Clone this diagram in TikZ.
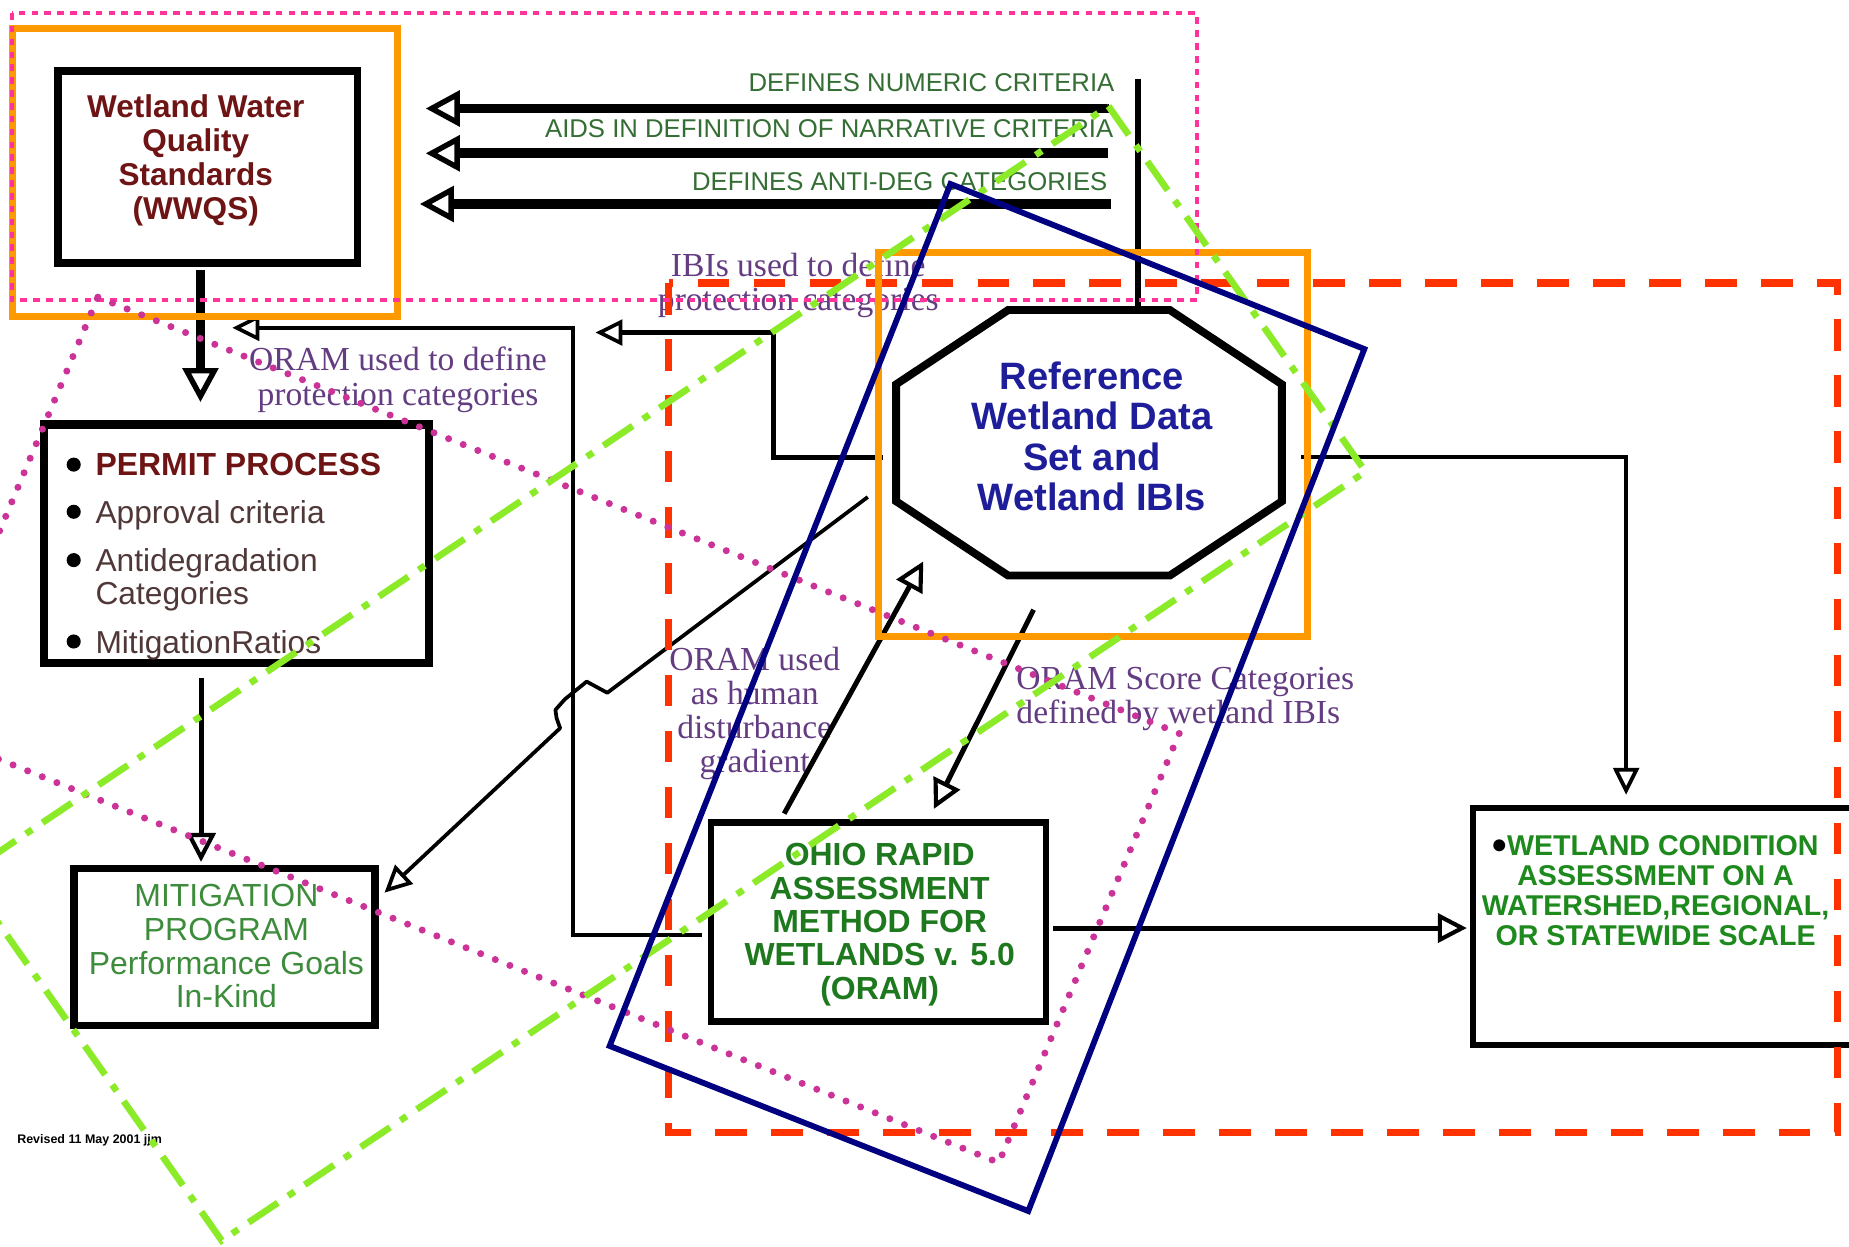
\documentclass[tikz,border=0pt]{standalone}
\usepackage{fontspec}
\setmainfont{Liberation Sans}
\newfontfamily\serifface{Liberation Serif}
\usetikzlibrary{arrows.meta,calc}
\definecolor{wred}{RGB}{110,20,20}
\definecolor{itemc}{RGB}{80,56,56}
\definecolor{lblgreen}{RGB}{53,110,53}
\definecolor{mitgreen}{RGB}{60,140,60}
\definecolor{oramgreen}{RGB}{30,120,30}
\definecolor{wcgreen}{RGB}{30,138,30}
\definecolor{refblue}{RGB}{30,30,155}
\definecolor{lblpurple}{RGB}{100,60,130}
\definecolor{hotpink}{RGB}{255,51,153}
\definecolor{magdot}{RGB}{204,51,153}
\definecolor{redorange}{RGB}{255,51,0}
\definecolor{boxorange}{RGB}{255,153,0}
\definecolor{limeg}{RGB}{140,235,40}
\definecolor{navyc}{RGB}{0,0,128}
\begin{document}
\begin{tikzpicture}[x=0.01cm,y=-0.01cm,
  box/.style={draw,inner sep=0pt,outer sep=0pt},
  txt/.style={inner sep=0pt,outer sep=0pt},
  lbl/.style={txt,font=\fontsize{6.2}{7}\selectfont,text=lblgreen},
  plbl/.style={txt,font=\serifface\fontsize{8.1}{8.25}\selectfont,text=lblpurple},
  item/.style={txt,anchor=west,font=\fontsize{7.65}{8}\selectfont,text=itemc},
  tipL/.style={-{Triangle[open,length=8.2pt,width=8.5pt,line width=1.3pt]}},
  tipM/.style={-{Triangle[open,length=7pt,width=7pt,line width=1pt]}},
  tipS/.style={-{Triangle[open,length=6.5pt,width=6.2pt,line width=0.9pt]}},
  pinkdot/.style={draw=hotpink,line width=1.1pt,dash pattern=on 1.6pt off 1.5pt},
  magdots/.style={draw=magdot,line width=1.7pt,line cap=round,dash pattern=on 0pt off 3.8pt},
  reddash/.style={draw=redorange,line width=1.7pt,dash pattern=on 7.6pt off 5.9pt},
  orangebox/.style={draw=boxorange,line width=1.7pt},
  limedd/.style={draw=limeg,line width=1.6pt,dash pattern=on 8.5pt off 3pt on 1.8pt off 3pt},
  navybox/.style={draw=navyc,line width=1.4pt,line join=miter},
]
\useasboundingbox (0,0) rectangle (1568,1057);
\clip (0,0) rectangle (1568,1057);
\fill[white] (0,0) rectangle (1568,1057);

% ---------- boxes ----------
\node[box,line width=1.85pt,minimum width=2.54cm,minimum height=1.63cm] (wwqs) at (176,141.5) {};
\node[box,line width=2pt,minimum width=3.265cm,minimum height=2.02cm] (permit) at (200.75,461) {};
\node[box,line width=1.8pt,minimum width=2.55cm,minimum height=1.33cm] (mitig) at (190.5,803) {};
\node[box,line width=1.6pt,minimum width=2.84cm,minimum height=1.685cm] (oram) at (745,781.75) {};
\node[box,line width=1.4pt,minimum width=3.71cm,minimum height=2.01cm] (wet) at (1434.5,785.5) {};
\node[txt,minimum width=3.27cm,minimum height=2.25cm] (ref) at (923.5,375.5) {};
\draw[line width=1.9pt,line join=miter]
  ($(ref.north west)+(95,0)$) -- ($(ref.north east)+(-95,0)$) -- ($(ref.north east)+(0,63)$)
  -- ($(ref.south east)+(0,-63)$) -- ($(ref.south east)+(-95,0)$) -- ($(ref.south west)+(95,0)$)
  -- ($(ref.south west)+(0,-63)$) -- ($(ref.north west)+(0,63)$) -- cycle;

% ---------- texts ----------
\node[txt,font=\fontsize{7.6}{8.2}\selectfont\bfseries,text=wred,align=center] (wwqsT) at (166,136) {Wetland Water\\Quality\\Standards\\(WWQS)};
\node[lbl,anchor=east] (l1) at (945,70.5) {DEFINES NUMERIC CRITERIA};
\node[lbl,anchor=east] (l2) at (944,109) {AIDS IN DEFINITION OF NARRATIVE CRITERIA};
\node[lbl,anchor=east] (l3) at (939,154) {DEFINES ANTI-DEG CATEGORIES};
\node[plbl,align=center] (ibiT) at (677,242) {IBIs used to define\\protection categories};
\node[plbl,align=center] (oramdefT) at (337.5,322) {ORAM used to define\\protection categories};
\node[plbl,align=center] (humT) at (640,605) {ORAM used\\as human\\disturbance\\gradient};
\node[plbl,align=left,anchor=west] (scoreT) at (862,593) {ORAM Score Categories\\defined by wetland IBIs};
\node[txt,font=\fontsize{9.2}{9.67}\selectfont\bfseries,text=refblue,align=center] (refT) at (926,370) {Reference\\Wetland Data\\Set and\\Wetland IBIs};

\node[item,font=\fontsize{7.7}{8}\selectfont\bfseries,text=wred] (p1) at (81,394) {PERMIT PROCESS};
\node[item] (p2) at (81,437) {Approval criteria};
\node[item] (p3) at (81,478) {Antidegradation};
\node[item] (p4) at (81,506) {Categories};
\node[item] (p5) at (81,547) {MitigationRatios};
\foreach \yy in {394,434,475,544} \fill (62.5,\yy) circle[radius=1.7pt];

\node[txt,font=\fontsize{7.7}{8.1}\selectfont,text=mitgreen,align=center] (mitT) at (192,802.5) {MITIGATION\\PROGRAM\\Performance Goals\\In-Kind};
\node[txt,font=\fontsize{7.7}{8.04}\selectfont\bfseries,text=oramgreen,align=center] (oramT) at (746,784) {OHIO RAPID\\ASSESSMENT\\METHOD FOR\\WETLANDS v. 5.0\\(ORAM)};
\node[txt,font=\fontsize{6.9}{7.25}\selectfont\bfseries,text=wcgreen,align=center] (wetT) at (1404,755) {{\color{black}\fontsize{10}{7.25}\selectfont\raisebox{-0.2ex}{•}}WETLAND CONDITION\\ASSESSMENT ON A\\WATERSHED,REGIONAL,\\OR STATEWIDE SCALE};
\node[txt,font=\fontsize{3}{3.5}\selectfont\bfseries] (footT) at (76,967) {Revised 11 May 2001 jjm};

% ---------- connectors ----------
\coordinate (d1) at (940.5,92);
\coordinate (d2) at (940,130);
\coordinate (d3) at (942,173);
\draw[line width=2.4pt,tipL] (d1) -- ($(wwqs.east)+(58,-49.5)$);
\draw[line width=2.4pt,tipL] (d2) -- ($(wwqs.east)+(58,-11.5)$);
\draw[line width=2.4pt,tipL] (d3) -- ($(wwqs.east)+(53,31.5)$);
\coordinate (vtop) at (965,67);
\draw[line width=1.3pt] (vtop) -- ($(ref.north)+(41.5,0)$);

\draw[line width=2pt,tipL] ($(wwqs.south)+(-6,6)$) -- ($(permit.north)+(-30.75,-19)$);
\draw[line width=1.2pt,tipM] ($(permit.south)+(-30.25,13)$) -- ($(mitig.north)+(-20,-5.5)$);

\coordinate (ibitip) at (505,282);
\draw[line width=1pt,tipS] ($(ref.west)+(-11,12.5)$) -- ++(-93,0) |- (ibitip);
\coordinate (oramtip) at (197,278);
\draw[line width=1pt,tipS] ($(oram.west)+(-8,11.25)$) -- ++(-109,0) |- (oramtip);

\draw[line width=0.9pt,line join=round,tipS] ($(ref.west)+(-24,46)$) -- (515,587.5) -- (497.5,578) -- (479,593)
  -- (471,602) -- (472,609) -- (475,617.5) -- ($(mitig.east)+(8,-46)$);

\draw[line width=1.2pt,tipM] ($(oram.north)+(-80,-7.5)$) -- ($(ref.south)+(-140.5,-12)$);
\draw[line width=1.2pt,tipM] ($(ref.south)+(-47,29)$) -- ($(oram.north)+(47,-11.5)$);
\draw[line width=1.2pt,tipM] ($(oram.east)+(6,5.25)$) -- ($(wet.west)+(-5,1.5)$);
\draw[line width=1.1pt,tipS] ($(ref.east)+(16,12)$) -| ($(wet.north)+(-55.5,-11)$);

% ---------- overlays ----------
\draw[reddash] (567,240) rectangle (1558,960);
\draw[orangebox] (11,24) rectangle (337,268);
\draw[orangebox] (745,214) rectangle (1109,539.5);
\draw[pinkdot] (10,11) rectangle (1015,254.5);
\draw[magdots] (83,252) -- (1000,622) -- (847,986) -- (-70,616) -- cycle;
\draw[limedd] (940,90) -- (1158,400) -- (188,1052) -- (-30,742) -- cycle;
\draw[navybox] (806,156) -- (1157,296) -- (872,1027) -- (517,887) -- cycle;
\end{tikzpicture}
\end{document}
